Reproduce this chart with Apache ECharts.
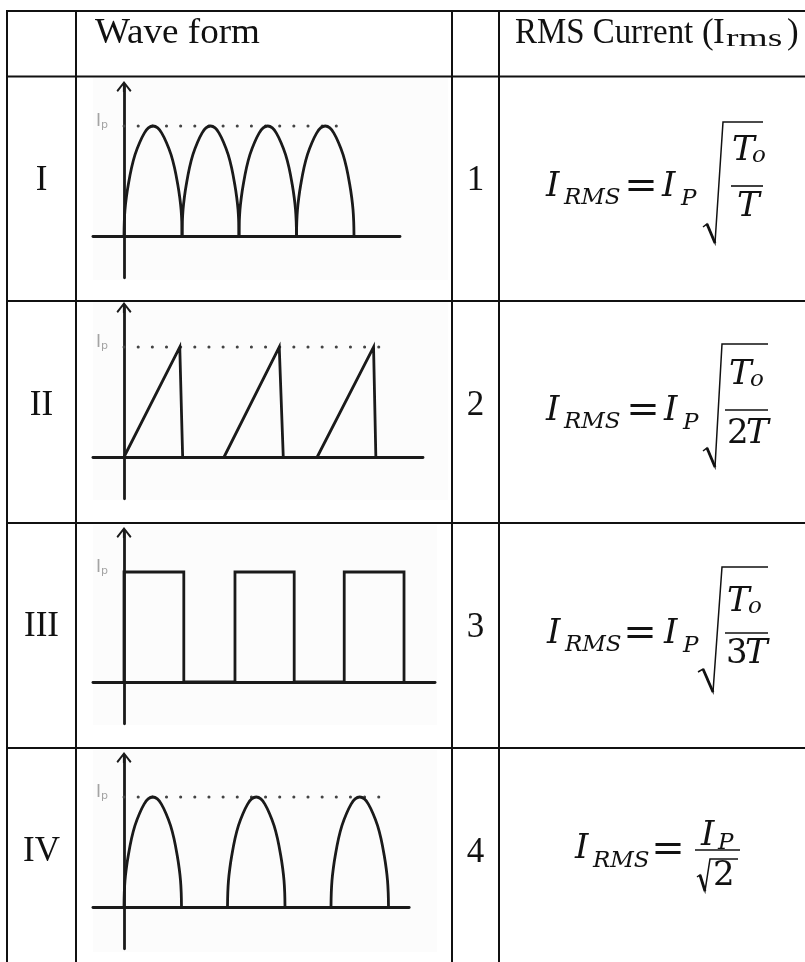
<!DOCTYPE html>
<html>
<head>
<meta charset="utf-8">
<title>RMS current of waveforms</title>
<script src="https://cdn.jsdelivr.net/npm/echarts@6/dist/echarts.min.js"></script>
<style>
    html, body { margin: 0; padding: 0; background: #fff; }
    #chart { width: 805px; height: 962px; }
</style>
</head>
<body>
<div id="chart"></div>
<script>
// table texts
var headerWave = 'Wave form';
var rowLabels = ['I', 'II', 'III', 'IV'];
var rowNumbers = ['1', '2', '3', '4'];

// shape of one rectified arc: [fraction of arc width, fraction of Ip]
var arcProfile = [[0, 0], [0.005, 0.13], [0.017, 0.24], [0.04, 0.35], [0.075, 0.47], [0.13, 0.62],
    [0.19, 0.74], [0.27, 0.85], [0.35, 0.935], [0.42, 0.983], [0.5, 1], [0.58, 0.983], [0.65, 0.935],
    [0.73, 0.85], [0.81, 0.74], [0.87, 0.62], [0.925, 0.47], [0.96, 0.35], [0.983, 0.24],
    [0.995, 0.13], [1, 0]];
// wave I : full wave rectified, arcs [start, end]
var wave1Arcs = [[0, 1.01], [1.01, 2.0], [2.0, 3.0], [3.0, 4.0]];
// wave II : saw tooth
var wave2Teeth = [
    [[0, 0], [0.97, 1], [1.02, 0]],
    [[1.74, 0], [2.70, 1], [2.77, 0]],
    [[3.36, 0], [4.34, 1], [4.38, 0]]
];
// wave III : square pulses
var wave3Pulses = [[0, 0], [0, 1], [1.04, 1], [1.04, 0], [1.93, 0], [1.93, 1], [2.96, 1], [2.96, 0],
    [3.83, 0], [3.83, 1], [4.87, 1], [4.87, 0]];
// wave IV : half wave rectified
var wave4Arcs = [[0, 1.0], [1.8, 2.8], [3.6, 4.6]];
// end of the dotted Ip line (none for wave III) and right end of the time axis
var peakDotsEnd = [3.93, 4.63, null, 4.66];
var axisXMax = [4.8, 5.2, 5.41, 4.96];

// layout
var INK = '#1a1a1a';
var SERIF = '"Liberation Serif", "Times New Roman", serif';
var MATH = '"DejaVu Serif", serif';
var AXIS_X = 124, PX_X = 57.5, PX_Y = 110;
var X_MIN = -0.54, Y_MIN = -0.38, Y_MAX = 1.36;
var BASELINE = [236, 457, 682, 907];
var ARROW = 'path://M7.5,0L15,9.5L13.6,11L8.6,4.7L8.6,11L6.4,11L6.4,4.7L1.4,11L0,9.5Z';

var myChart = echarts.init(document.getElementById('chart'));

var grids = [], xAxes = [], yAxes = [], series = [];

function waveLine(i, data, smooth) {
    series.push({
        type: 'line', xAxisIndex: i, yAxisIndex: i, data: data, smooth: smooth || false,
        symbol: 'none', silent: true,
        lineStyle: { color: INK, width: 2.8, join: 'miter' }
    });
}

for (var i = 0; i < 4; i++) {
    grids.push({
        left: AXIS_X + X_MIN * PX_X,
        top: BASELINE[i] - Y_MAX * PX_Y,
        width: (axisXMax[i] - X_MIN) * PX_X,
        height: (Y_MAX - Y_MIN) * PX_Y,
        outerBoundsMode: 'none'
    });
    xAxes.push({
        gridIndex: i, type: 'value', min: X_MIN, max: axisXMax[i],
        axisLine: { show: true, onZero: true, lineStyle: { color: INK, width: 2.8 } },
        axisTick: { show: false }, axisLabel: { show: false }, splitLine: { show: false }
    });
    yAxes.push({
        gridIndex: i, type: 'value', min: Y_MIN, max: Y_MAX,
        axisLine: {
            show: true, onZero: true, symbol: ['none', ARROW], symbolSize: [15, 11],
            lineStyle: { color: INK, width: 2.8 }
        },
        axisTick: { show: false }, splitLine: { show: false },
        axisLabel: {
            show: true, customValues: [1], margin: -15, padding: [0, 0, 8, 0],
            formatter: function () { return '{i|I}{p|p}'; },
            rich: {
                i: { fontFamily: 'DejaVu Sans', fontSize: 17, color: '#a4a4a4', lineHeight: 18 },
                p: { fontFamily: 'DejaVu Sans', fontSize: 11, color: '#a4a4a4', lineHeight: 12, verticalAlign: 'bottom' }
            }
        }
    });
    if (peakDotsEnd[i] != null) {
        series.push({
            type: 'line', xAxisIndex: i, yAxisIndex: i, symbol: 'none', silent: true,
            data: [[0, 1], [peakDotsEnd[i], 1]],
            lineStyle: { color: '#444', width: 3, type: [0.1, 14.05], cap: 'round' }
        });
    }
}

wave1Arcs.forEach(function (a) {
    waveLine(0, arcProfile.map(function (p) { return [a[0] + p[0] * (a[1] - a[0]), p[1]]; }), 0.4);
});
wave2Teeth.forEach(function (t) { waveLine(1, t); });
waveLine(2, wave3Pulses);
wave4Arcs.forEach(function (a) {
    waveLine(3, arcProfile.map(function (p) { return [a[0] + p[0] * (a[1] - a[0]), p[1]]; }), 0.4);
});

// ---------- table and formulas (graphic) ----------
var graphics = [];

function txt(x, y, s, size, opt) {
    opt = opt || {};
    graphics.push({
        type: 'text', x: x, y: y, z: 50, scaleX: opt.sx || 1, silent: true,
        style: {
            text: s, fill: opt.color || '#111',
            font: (opt.italic ? 'italic ' : '') + size + 'px ' + (opt.family || MATH),
            textAlign: opt.align || 'left', textVerticalAlign: 'middle', verticalAlign: 'middle'
        }
    });
}
function seg(x1, y1, x2, y2, w) {
    graphics.push({
        type: 'line', z: 50, silent: true, shape: { x1: x1, y1: y1, x2: x2, y2: y2 },
        style: { stroke: '#111', lineWidth: w }
    });
}
function radical(pts) {
    graphics.push({
        type: 'polyline', z: 50, silent: true, shape: { points: pts },
        style: { stroke: '#111', lineWidth: 1.5, fill: null, lineJoin: 'miter' }
    });
    seg(pts[1][0], pts[1][1], pts[2][0], pts[2][1], 2.8);
}

// faint background of the pasted wave pictures
[[93, 78, 355, 202], [93, 302, 355, 198], [93, 525, 344, 200], [93, 750, 344, 202]].forEach(function (r) {
    graphics.push({ type: 'rect', z: -1, silent: true, shape: { x: r[0], y: r[1], width: r[2], height: r[3] }, style: { fill: '#fcfcfc' } });
});

// grid lines of the table
[11, 76.5, 301, 523, 748].forEach(function (y) { seg(6, y, 805, y, 2); });
[7, 76, 452, 499].forEach(function (x) { seg(x, 10, x, 962, 2); });

// header
txt(95, 33.5, headerWave, 35, { family: SERIF, sx: 1.06 });
txt(515, 33.5, 'RMS Current', 35, { family: SERIF, sx: 0.94 });
txt(702, 33.5, '(', 35, { family: SERIF });
txt(713, 33.5, 'I', 35, { family: SERIF });
txt(726, 39, 'rms', 25, { family: SERIF, sx: 1.5 });
txt(787, 33.5, ')', 35, { family: SERIF });

// row labels and numbers
var labelY = [181, 406, 627, 852];
var numberY = [180.5, 406, 628, 853];
rowLabels.forEach(function (s, k) { txt(41.5, labelY[k], s, 35, { family: SERIF, align: 'center' }); });
rowNumbers.forEach(function (s, k) { txt(475.5, numberY[k], s, 35, { family: SERIF, align: 'center' }); });

// formula 1
var a = 187;
txt(546, a, 'I', 34, { italic: true }); txt(564, a + 11, 'RMS', 23, { italic: true });
txt(641, a + 1, '=', 40, { align: 'center' });
txt(662, a, 'I', 34, { italic: true }); txt(681, a + 12, 'P', 23, { italic: true });
radical([[703, a + 40], [707, a + 37], [715, a + 56], [723, a - 65], [763, a - 65]]);
txt(732, a - 36, 'T', 34, { italic: true }); txt(752, a - 31, 'o', 23, { italic: true });
seg(731, a - 1, 763, a - 1, 1.6);
txt(737, a + 20, 'T', 34, { italic: true });

// formula 2
a = 411;
txt(546, a, 'I', 34, { italic: true }); txt(564, a + 11, 'RMS', 23, { italic: true });
txt(643, a + 1, '=', 40, { align: 'center' });
txt(664, a, 'I', 34, { italic: true }); txt(683, a + 12, 'P', 23, { italic: true });
radical([[703, a + 40], [707, a + 37], [715, a + 56], [722, a - 67], [768, a - 67]]);
txt(729, a - 36, 'T', 34, { italic: true }); txt(750, a - 31, 'o', 23, { italic: true });
seg(725, a - 1, 768, a - 1, 1.6);
txt(727, a + 23, '2', 34); txt(746, a + 23, 'T', 34, { italic: true });

// formula 3
a = 634;
txt(547, a, 'I', 34, { italic: true }); txt(565, a + 11, 'RMS', 23, { italic: true });
txt(640, a + 1, '=', 40, { align: 'center' });
txt(664, a, 'I', 34, { italic: true }); txt(683, a + 12, 'P', 23, { italic: true });
radical([[698, a + 38], [703, a + 35], [713, a + 58], [722, a - 67], [768, a - 67]]);
txt(727, a - 32, 'T', 34, { italic: true }); txt(748, a - 27, 'o', 23, { italic: true });
seg(725, a - 1, 768, a - 1, 1.6);
txt(726, a + 20, '3', 34); txt(745, a + 20, 'T', 34, { italic: true });

// formula 4
a = 850;
txt(575, a - 1, 'I', 34, { italic: true }); txt(593, a + 11, 'RMS', 23, { italic: true });
txt(668, a + 1, '=', 40, { align: 'center' });
txt(701, 836, 'I', 34, { italic: true }); txt(718, 843, 'P', 23, { italic: true });
seg(695, a, 740, a, 1.6);
radical([[697, 877], [700, 875], [705, 891], [710, 859], [738, 859]]);
txt(713, 876, '2', 34);

myChart.setOption({
    backgroundColor: '#fff',
    animation: false,
    grid: grids,
    xAxis: xAxes,
    yAxis: yAxes,
    series: series,
    graphic: { elements: graphics }
});
</script>
</body>
</html>
